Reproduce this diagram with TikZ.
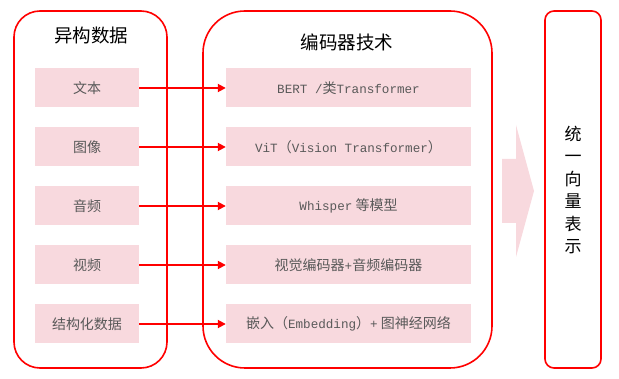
\documentclass[tikz,border=0pt]{standalone}
\usepackage{fontspec}
\setmainfont{Noto Sans CJK SC}
\newfontfamily\latmono{Liberation Mono}
\newcommand{\lm}[1]{{\fontsize{12.6}{14}\latmono #1}}
\usetikzlibrary{arrows.meta}
\definecolor{boxpink}{HTML}{F8D9DE}
\definecolor{txtgrey}{HTML}{595959}

\begin{document}
\begin{tikzpicture}[x=1pt, y=-1pt,
    panel/.style={draw=red, line width=1.6pt},
    item/.style={fill=boxpink, text=txtgrey, font=\fontsize{14}{16}\selectfont, inner sep=0pt},
    link/.style={draw=red, line width=1.8pt, -{Triangle[length=8pt, width=8pt]}}]
      \useasboundingbox (0,0) rectangle (619,379);

      % panels
      \draw[panel, rounded corners=26pt] (14,11) rectangle (167,368);
      \draw[panel, rounded corners=42pt] (203,11) rectangle (492,368);
      \draw[panel, rounded corners=9pt] (545,11) rectangle (601,368);

      \node[font=\fontsize{18.5}{20}\selectfont] (t1) at (91,35) {异构数据};
      \node[font=\fontsize{18.5}{20}\selectfont] (t2) at (347,42) {编码器技术};

      % rows
      \node[item, minimum width=104pt, minimum height=39pt] (l1) at (87,88) {文本};
      \node[item, minimum width=104pt, minimum height=39pt] (l2) at (87,147) {图像};
      \node[item, minimum width=104pt, minimum height=39pt] (l3) at (87,206) {音频};
      \node[item, minimum width=104pt, minimum height=39pt] (l4) at (87,265) {视频};
      \node[item, minimum width=104pt, minimum height=39pt] (l5) at (87,324) {结构化数据};

      \node[item, minimum width=245pt, minimum height=39pt] (r1) at (348.5,88) {\lm{BERT /}类\lm{Transformer}};
      \node[item, minimum width=245pt, minimum height=39pt] (r2) at (348.5,147) {\lm{ViT}（\lm{Vision Transformer}）};
      \node[item, minimum width=245pt, minimum height=39pt] (r3) at (348.5,206) {\lm{Whisper} 等模型};
      \node[item, minimum width=245pt, minimum height=39pt] (r4) at (348.5,265) {视觉编码器\lm{+}音频编码器};
      \node[item, minimum width=245pt, minimum height=39pt] (r5) at (348.5,324) {嵌入（\lm{Embedding}）\lm{+} 图神经网络};

      \foreach \i in {1,...,5}
        \draw[link] (l\i) -- (r\i);

      % big arrow
      \fill[boxpink] (502,159) -- (516,159) -- (516,125) -- (534,191)
         -- (516,257) -- (516,223) -- (502,223) -- cycle;

      \node[font=\fontsize{17}{22.5}\selectfont, align=center] (vec) at (573,190)
         {统\\一\\向\\量\\表\\示};
    \end{tikzpicture}
\end{document}
